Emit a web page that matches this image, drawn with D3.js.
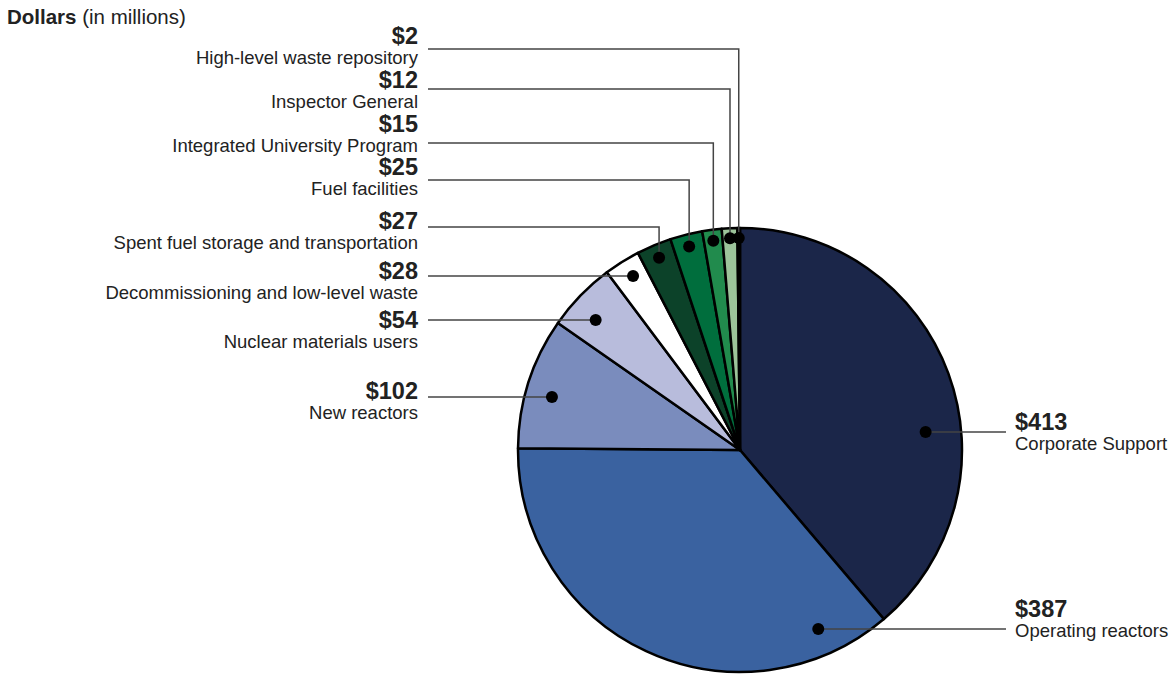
<!DOCTYPE html>
<html>
<head>
<meta charset="utf-8">
<script src="https://cdn.jsdelivr.net/npm/d3@7"></script>
<style>
  body { margin: 0; background: #fff; }
  svg { font-family: "Liberation Sans", Arial, sans-serif; }
  .val { font-weight: bold; font-size: 23.5px; fill: #222; }
  .name { font-size: 18.5px; fill: #222; }
</style>
</head>
<body>
<div id="chart"></div>
<script>
// data, clockwise from 12 o'clock
const categories = ["Corporate Support", "Operating reactors", "New reactors", "Nuclear materials users",
  "Decommissioning and low-level waste", "Spent fuel storage and transportation", "Fuel facilities",
  "Integrated University Program", "Inspector General", "High-level waste repository"];
const values = [413, 387, 102, 54, 28, 27, 25, 15, 12, 2];
const colors = ["#1b2649", "#3a62a0", "#7a8cbd", "#b8bcdc", "#ffffff", "#0c4229", "#006e3d", "#218b4d", "#9cc49a", "#bba56e"];

// label layout (value baseline, leader y, leader kind, dot radius as share of R)
const labelY = [430, 617, 399, 328, 279, 229, 175, 132, 88, 44];
const leaderY = [432, 629, 397, 320, 276, 227, 180, 143, 89, 49];
const leaderKind = ["h", "h", "h", "h", "h", "elbow", "elbow", "elbow", "elbow", "elbow"];
const dotR = [0.84, 0.88, 0.88, 0.875, 0.92, 0.94, 0.945, 0.95, 0.955, 0.955];

const W = 1173, H = 675;
const cx = 740, cy = 450, R = 222;
const leftTextX = 418, leftLineX = 428, rightTextX = 1015, rightLineX = 1006;

const svg = d3.select("#chart").append("svg")
  .attr("width", W)
  .attr("height", H);

// title
const title = svg.append("text").attr("x", 7).attr("y", 24).style("font-size", "20.5px").attr("fill", "#222");
title.append("tspan").attr("font-weight", "bold").text("Dollars");
title.append("tspan").text(" (in millions)");

const pie = d3.pie().sort(null).value(d => d)(values);
const arc = d3.arc().innerRadius(0).outerRadius(R);

const g = svg.append("g").attr("transform", "translate(" + cx + "," + cy + ")");

g.selectAll(".slice")
  .data(pie)
  .enter().append("path")
  .attr("class", "slice")
  .attr("d", arc)
  .attr("fill", (d, i) => colors[i])
  .attr("stroke", "#000")
  .attr("stroke-width", 2.5)
  .attr("stroke-linejoin", "round");

// dot positions (first two labels sit on the right)
const dots = pie.map((d, i) => {
  let r = dotR[i] * R;
  if (leaderKind[i] === "h") {
    let dy = leaderY[i] - cy;
    let dx = Math.sqrt(r * r - dy * dy);
    return {x: cx + (i < 2 ? dx : -dx), y: leaderY[i]};
  }
  let a = (d.startAngle + d.endAngle) / 2;
  return {x: cx + r * Math.sin(a), y: cy - r * Math.cos(a)};
});

// leader lines
svg.selectAll(".leader")
  .data(pie)
  .enter().append("path")
  .attr("class", "leader")
  .attr("fill", "none")
  .attr("stroke", "#444")
  .attr("stroke-width", 1.5)
  .attr("d", (d, i) => {
    let p = dots[i];
    let x0 = i < 2 ? rightLineX : leftLineX;
    if (leaderKind[i] === "h") return "M" + x0 + "," + leaderY[i] + "H" + p.x;
    return "M" + x0 + "," + leaderY[i] + "H" + p.x + "V" + p.y;
  });

svg.selectAll(".dot")
  .data(dots)
  .enter().append("circle")
  .attr("class", "dot")
  .attr("cx", d => d.x)
  .attr("cy", d => d.y)
  .attr("r", 6)
  .attr("fill", "#000");

// labels
const labels = svg.selectAll(".label")
  .data(pie)
  .enter().append("g")
  .attr("class", "label");

labels.append("text")
  .attr("class", "val")
  .attr("x", (d, i) => i < 2 ? rightTextX : leftTextX)
  .attr("y", (d, i) => labelY[i])
  .attr("text-anchor", (d, i) => i < 2 ? "start" : "end")
  .text(d => "$" + d.data);

labels.append("text")
  .attr("class", "name")
  .attr("x", (d, i) => i < 2 ? rightTextX : leftTextX)
  .attr("y", (d, i) => labelY[i] + 20)
  .attr("text-anchor", (d, i) => i < 2 ? "start" : "end")
  .text((d, i) => categories[i]);
</script>
</body>
</html>
